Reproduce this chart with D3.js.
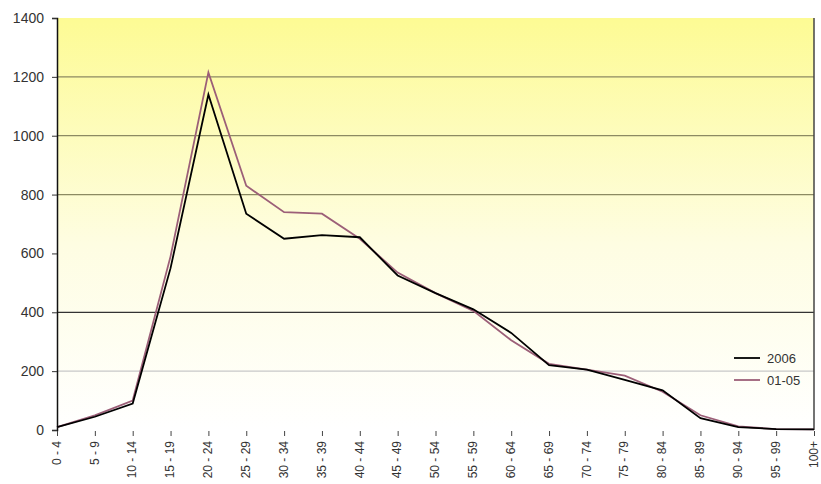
<!DOCTYPE html>
<html>
<head>
<meta charset="utf-8">
<script src="https://cdn.jsdelivr.net/npm/d3@7"></script>
<style>
  body { margin: 0; background: #fff; }
  svg { font-family: "Liberation Sans", Arial, sans-serif; }
</style>
</head>
<body>
<svg id="chart" width="821" height="484"></svg>
<script>
const categories = ["0 - 4", "5 - 9", "10 - 14", "15 - 19", "20 - 24", "25 - 29", "30 - 34",
  "35 - 39", "40 - 44", "45 - 49", "50 - 54", "55 - 59", "60 - 64", "65 - 69", "70 - 74",
  "75 - 79", "80 - 84", "85 - 89", "90 - 94", "95 - 99", "100+"];
const values2006 = [10, 45, 90, 550, 1140, 735, 650, 662, 655, 525, 465, 410, 330, 220, 205, 170, 135, 40, 10, 3, 2];
const values0105 = [10, 50, 100, 590, 1215, 830, 740, 735, 650, 535, 465, 405, 305, 225, 205, 185, 130, 50, 12, 3, 2];
const yTicks = [0, 200, 400, 600, 800, 1000, 1200, 1400];
const gridValues = [200, 400, 800, 1000, 1200];

const svg = d3.select("#chart");
const plotLeft = 57, plotRight = 814, plotTop = 18, plotBottom = 430;

const x = d3.scalePoint().domain(categories).range([plotLeft, plotRight]);
const y = d3.scaleLinear().domain([0, 1400]).range([plotBottom, plotTop]);

// Background gradient
const grad = svg.append("defs").append("linearGradient")
  .attr("id", "bg").attr("x1", 0).attr("y1", 0).attr("x2", 0).attr("y2", 1);
grad.append("stop").attr("offset", "0%").attr("stop-color", "#fdfb94");
grad.append("stop").attr("offset", "55%").attr("stop-color", "#fefde2");
grad.append("stop").attr("offset", "100%").attr("stop-color", "#ffffff");

svg.append("rect")
  .attr("x", plotLeft).attr("y", plotTop)
  .attr("width", plotRight - plotLeft).attr("height", plotBottom - plotTop)
  .attr("fill", "url(#bg)");

// Gridlines
function gridColor(v) {
  if (v === 200) return "#c8c8c8";
  if (v === 400) return "#333333";
  return "#8c8a62";
}
svg.append("g")
  .selectAll("line")
  .data(gridValues)
  .enter()
  .append("line")
  .attr("x1", plotLeft).attr("x2", plotRight)
  .attr("y1", function (d) { return y(d); })
  .attr("y2", function (d) { return y(d); })
  .attr("stroke", gridColor)
  .attr("stroke-width", 1.2);

// Right border
svg.append("line")
  .attr("x1", plotRight).attr("x2", plotRight).attr("y1", plotTop).attr("y2", plotBottom)
  .attr("stroke", "#444").attr("stroke-width", 1.5);

// Y axis
const yAxis = svg.append("g")
  .attr("transform", "translate(" + plotLeft + ",0)")
  .call(d3.axisLeft(y).tickValues(yTicks).tickFormat(d3.format("d")).tickSize(5).tickPadding(8));
yAxis.select(".domain").attr("stroke", "#111").attr("stroke-width", 1.5);
yAxis.selectAll(".tick line").attr("stroke", "#333");
yAxis.selectAll("text").attr("font-size", 14).attr("fill", "#333")
  .attr("font-family", "'Liberation Sans', Arial, sans-serif");

// X axis (ticks only, no line)
const xAxis = svg.append("g")
  .attr("transform", "translate(0," + plotBottom + ")")
  .call(d3.axisBottom(x).tickSizeInner(5).tickSizeOuter(0));
xAxis.select(".domain").remove();
xAxis.selectAll(".tick line").attr("stroke", "#444").attr("transform", "translate(0,1)");
xAxis.selectAll("text")
  .attr("font-size", 12).attr("fill", "#333")
  .attr("font-family", "'Liberation Sans', Arial, sans-serif")
  .attr("text-anchor", "end")
  .attr("x", 0).attr("y", 0)
  .attr("dy", "0.35em")
  .attr("transform", "translate(-1,11) rotate(-90)");

// Lines
const line = d3.line()
  .x(function (d, i) { return x(categories[i]); })
  .y(function (d) { return y(d); });

svg.append("path")
  .datum(values0105)
  .attr("fill", "none")
  .attr("stroke", "#9c5f78")
  .attr("stroke-width", 1.8)
  .attr("d", line);

svg.append("path")
  .datum(values2006)
  .attr("fill", "none")
  .attr("stroke", "#000")
  .attr("stroke-width", 1.8)
  .attr("d", line);

// Legend
const legend = [["2006", "#000"], ["01-05", "#9c5f78"]];
const lg = svg.append("g").attr("transform", "translate(734,358)");
legend.forEach(function (d, i) {
  lg.append("line")
    .attr("x1", 0).attr("x2", 26)
    .attr("y1", i * 22).attr("y2", i * 22)
    .attr("stroke", d[1]).attr("stroke-width", 1.8);
  lg.append("text")
    .attr("x", 33).attr("y", i * 22)
    .attr("dy", "0.35em")
    .attr("font-size", 13).attr("fill", "#333")
    .text(d[0]);
});
</script>
</body>
</html>
